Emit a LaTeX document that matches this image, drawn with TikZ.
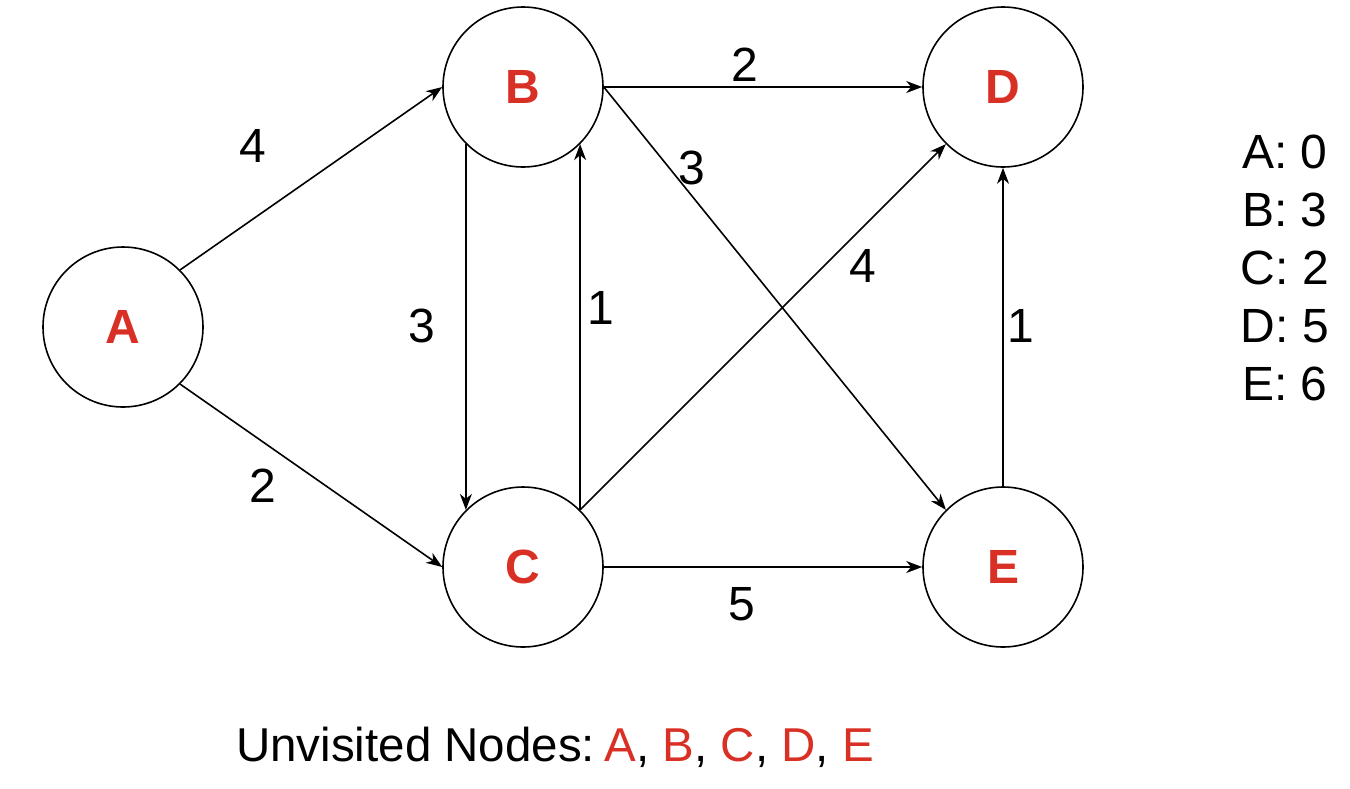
\documentclass[tikz,border=0pt]{standalone}
\usepackage{fontspec}
\setmainfont{Liberation Sans}
\usetikzlibrary{arrows.meta}
\definecolor{nodered}{RGB}{217,48,37}
\tikzset{
  vertex/.style={circle, draw=black, line width=1.6pt, minimum size=160pt, inner sep=0pt,
    font=\fontsize{48}{58}\selectfont\bfseries, text=nodered},
  edge/.style={line width=1.6pt, -{Stealth[length=16pt,width=12pt,inset=5pt]}},
  wlabel/.style={font=\fontsize{48}{58}\selectfont, inner sep=0pt},
}
\begin{document}
\begin{tikzpicture}[x=1pt,y=-1pt]
\useasboundingbox (0,0) rectangle (1350,788);
\node[vertex] (A) at (123,327) {A};
\node[vertex] (B) at (523,87) {B};
\node[vertex] (C) at (523,567) {C};
\node[vertex] (D) at (1003,87) {D};
\node[vertex] (E) at (1003,567) {E};

\draw[edge] (A.45) -- (B.west);
\draw[edge] (A.-45) -- (C.west);
\draw[edge] (B.east) -- (D.west);
\draw[edge] (B.225) -- (C.135);
\draw[edge] (C.45) -- (B.-45);
\draw[edge] (B.east) -- (E.135);
\draw[edge] (C.45) -- (D.225);
\draw[edge] (C.east) -- (E.west);
\draw[edge] (E.north) -- (D.south);

\node[wlabel] (lab) at (253,146) {4};
\node[wlabel] (lac) at (263,486) {2};
\node[wlabel] (lbd) at (745,65) {2};
\node[wlabel] (lbc) at (422,326) {3};
\node[wlabel] (lcb) at (601,308) {1};
\node[wlabel] (lbe) at (692,168) {3};
\node[wlabel] (lcd) at (863,266) {4};
\node[wlabel] (lce) at (742,604) {5};
\node[wlabel] (led) at (1021,326) {1};

\node[font=\fontsize{48}{58}\selectfont, align=center, inner sep=0pt] (dist) at (1285,268)
  {A: 0\\B: 3\\C: 2\\D: 5\\E: 6};

\node[font=\fontsize{47.5}{58}\selectfont, inner sep=0pt] (unv) at (555,747)
  {Unvisited Nodes:\hspace{0.2em}\textcolor{nodered}{A}, \textcolor{nodered}{B}, \textcolor{nodered}{C}, \textcolor{nodered}{D}, \textcolor{nodered}{E}};
\end{tikzpicture}
\end{document}
